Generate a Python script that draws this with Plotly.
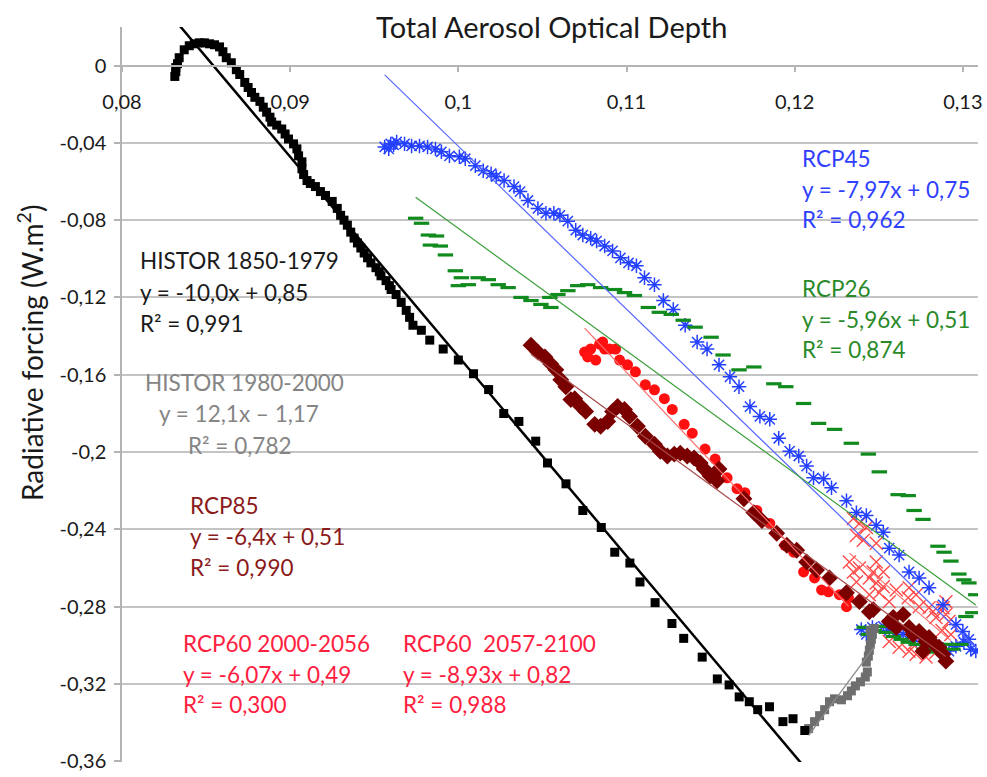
import numpy as np
import plotly.graph_objects as go

# ---------------- data (AOD, radiative forcing W.m-2) ----------------
histor1_aod = [0.08314, 0.0832, 0.0832, 0.0833, 0.0834, 0.0837, 0.0840, 0.0843, 0.0846, 0.0849,
               0.0852, 0.0855, 0.0858, 0.0860, 0.0862, 0.0865, 0.0868, 0.0870, 0.0873, 0.0875,
               0.0877, 0.0879, 0.0882, 0.0884, 0.0886, 0.0888, 0.0889, 0.0892, 0.0895, 0.0897,
               0.0899, 0.0902, 0.0904, 0.0905, 0.0907, 0.0907, 0.0908, 0.0910, 0.0912, 0.0915,
               0.0918, 0.0921, 0.0925, 0.0928, 0.0930, 0.0932, 0.0934, 0.0936, 0.0938, 0.0940,
               0.0942, 0.0944, 0.0946, 0.0948, 0.0951, 0.0953, 0.0954, 0.0957, 0.0959, 0.0960,
               0.0963, 0.0966, 0.0969, 0.0971, 0.0973, 0.0978, 0.0983, 0.0991, 0.1000, 0.1009,
               0.1018, 0.1027, 0.1036, 0.1046, 0.1053, 0.1064, 0.1074, 0.1085, 0.1093, 0.1102,
               0.1108, 0.1117, 0.1127, 0.1134, 0.1145, 0.1154, 0.1161, 0.1167, 0.1173, 0.1178,
               0.1185, 0.1193, 0.1199, 0.1206]
histor1_rf = [-0.0056, -0.0031, -0.0010, 0.0010, 0.0041, 0.0082, 0.0103, 0.0113, 0.0118, 0.0118,
              0.0113, 0.0108, 0.0097, 0.0072, 0.0041, 0.0015, -0.0021, -0.0046, -0.0087, -0.0113,
              -0.0139, -0.0164, -0.0185, -0.0215, -0.0241, -0.0267, -0.0292, -0.0308, -0.0328, -0.0354,
              -0.0380, -0.0405, -0.0431, -0.0467, -0.0498, -0.0534, -0.0564, -0.0595, -0.0610, -0.0626,
              -0.0652, -0.0672, -0.0703, -0.0739, -0.0775, -0.0800, -0.0826, -0.0862, -0.0893, -0.0918,
              -0.0944, -0.0970, -0.0995, -0.1021, -0.1046, -0.1067, -0.1088, -0.1113, -0.1139, -0.1159,
              -0.1185, -0.1226, -0.1267, -0.1303, -0.1344, -0.1370, -0.1421, -0.1467, -0.1524, -0.1595,
              -0.1677, -0.1801, -0.1842, -0.1944, -0.2057, -0.2165, -0.2303, -0.2391, -0.2519, -0.2575,
              -0.2673, -0.2780, -0.2888, -0.2965, -0.3062, -0.3175, -0.3206, -0.3268, -0.3293, -0.3334,
              -0.3319, -0.3396, -0.3381, -0.3442]

histor2_aod = [0.12083, 0.12118, 0.12148, 0.12178, 0.12207, 0.12237, 0.12278, 0.12314, 0.12337, 0.12361,
               0.12391, 0.12420, 0.12432, 0.12426, 0.12438, 0.12444, 0.12450, 0.12456, 0.12462, 0.12450,
               0.12473]
histor2_rf = [-0.3432, -0.3396, -0.3365, -0.3334, -0.3293, -0.3278, -0.3283, -0.3262, -0.3237, -0.3211,
              -0.3190, -0.3165, -0.3139, -0.3088, -0.3057, -0.3026, -0.2996, -0.2970, -0.2944, -0.2924,
              -0.2914]

rcp45_aod = [0.12396, 0.12426, 0.12462, 0.12527, 0.12562, 0.12604, 0.12645, 0.12704, 0.12751, 0.12799,
             0.12840, 0.12882, 0.12917, 0.12959, 0.13006, 0.13047, 0.13077, 0.13036, 0.13000, 0.12959,
             0.12882, 0.12799, 0.12740, 0.12680, 0.12621, 0.12562, 0.12527, 0.12485, 0.12426, 0.12367,
             0.12308, 0.12219, 0.12172, 0.12112, 0.12071, 0.12024, 0.11970, 0.11905, 0.11852, 0.11793,
             0.11734, 0.11669, 0.11615, 0.11550, 0.11479, 0.11420, 0.11349, 0.11278, 0.11219, 0.11166,
             0.11107, 0.11059, 0.11012, 0.10964, 0.10917, 0.10870, 0.10822, 0.10787, 0.10740, 0.10698,
             0.10651, 0.10604, 0.10568, 0.10521, 0.10473, 0.10414, 0.10367, 0.10331, 0.10272, 0.10225,
             0.10195, 0.10148, 0.10101, 0.10041, 0.10006, 0.09947, 0.09899, 0.09864, 0.09817, 0.09769,
             0.09722, 0.09680, 0.09633, 0.09598, 0.09562, 0.09586, 0.09615]
rcp45_rf = [-0.2919, -0.2944, -0.2908, -0.2903, -0.2924, -0.2934, -0.2944, -0.2960, -0.2980, -0.2996,
            -0.3006, -0.3021, -0.3031, -0.3006, -0.2985, -0.3021, -0.3031, -0.2970, -0.2929, -0.2893,
            -0.2791, -0.2703, -0.2652, -0.2621, -0.2534, -0.2498, -0.2416, -0.2380, -0.2329, -0.2314,
            -0.2252, -0.2185, -0.2139, -0.2134, -0.2073, -0.2021, -0.1996, -0.1929, -0.1831, -0.1816,
            -0.1765, -0.1662, -0.1611, -0.1549, -0.1467, -0.1431, -0.1344, -0.1262, -0.1216, -0.1134,
            -0.1098, -0.1036, -0.1021, -0.0995, -0.0959, -0.0934, -0.0908, -0.0893, -0.0877, -0.0852,
            -0.0805, -0.0775, -0.0764, -0.0764, -0.0739, -0.0698, -0.0652, -0.0626, -0.0595, -0.0575,
            -0.0559, -0.0544, -0.0518, -0.0482, -0.0472, -0.0467, -0.0446, -0.0431, -0.0421, -0.0416,
            -0.0416, -0.0405, -0.0395, -0.0405, -0.0421, -0.0431, -0.0410]

rcp26_aod = [0.12414, 0.12438, 0.12473, 0.12515, 0.12544, 0.12586, 0.12633, 0.12675, 0.12722, 0.12769,
             0.12811, 0.12852, 0.12899, 0.12941, 0.12988, 0.13018, 0.13059, 0.13077, 0.13036, 0.13006,
             0.12976, 0.12929, 0.12888, 0.12852, 0.12763, 0.12710, 0.12675, 0.12615, 0.12503, 0.12438,
             0.12337, 0.12237, 0.12142, 0.12053, 0.11947, 0.11876, 0.11757, 0.11669, 0.11574, 0.11503,
             0.11408, 0.11337, 0.11266, 0.11195, 0.11130, 0.11047, 0.10988, 0.10929, 0.10846, 0.10769,
             0.10710, 0.10651, 0.10592, 0.10544, 0.10550, 0.10491, 0.10432, 0.10373, 0.10296, 0.10237,
             0.10178, 0.10118, 0.10059, 0.10000, 0.10018, 0.09982, 0.09923, 0.09893, 0.09834, 0.09870,
             0.09822, 0.09781, 0.09746]
rcp26_rf = [-0.2908, -0.2944, -0.2924, -0.2903, -0.2934, -0.2955, -0.2970, -0.2985, -0.2996, -0.3021,
            -0.3036, -0.3031, -0.2996, -0.3021, -0.2996, -0.2852, -0.2832, -0.2739, -0.2678, -0.2662,
            -0.2632, -0.2565, -0.2519, -0.2488, -0.2349, -0.2303, -0.2226, -0.2221, -0.2103, -0.2011,
            -0.1955, -0.1883, -0.1852, -0.1749, -0.1662, -0.1647, -0.1560, -0.1575, -0.1498, -0.1406,
            -0.1354, -0.1318, -0.1288, -0.1277, -0.1252, -0.1190, -0.1175, -0.1159, -0.1149, -0.1134,
            -0.1139, -0.1165, -0.1185, -0.1200, -0.1252, -0.1236, -0.1216, -0.1200, -0.1149, -0.1134,
            -0.1108, -0.1098, -0.1134, -0.1139, -0.1098, -0.1062, -0.0980, -0.0934, -0.0929, -0.0882,
            -0.0877, -0.0816, -0.0790]

rcp85_aod = [0.10432, 0.10473, 0.10515, 0.10550, 0.10580, 0.10609, 0.10639, 0.10669, 0.10692, 0.10728,
             0.10757, 0.10811, 0.10846, 0.10888, 0.10917, 0.10947, 0.10988, 0.11018, 0.11065, 0.11112,
             0.11166, 0.11201, 0.11243, 0.11284, 0.11320, 0.11361, 0.11402, 0.11438, 0.11462, 0.11497,
             0.11538, 0.11550, 0.11698, 0.11757, 0.11805, 0.11893, 0.11953, 0.12012, 0.12071, 0.12130,
             0.12207, 0.12308, 0.12385, 0.12444, 0.12467, 0.12562, 0.12586, 0.12645, 0.12604, 0.12680,
             0.12704, 0.12740, 0.12781, 0.12799, 0.12840, 0.12858, 0.12882, 0.12899, 0.12763]
rcp85_rf = [-0.1447, -0.1483, -0.1508, -0.1544, -0.1575, -0.1626, -0.1662, -0.1729, -0.1724, -0.1765,
            -0.1790, -0.1857, -0.1867, -0.1842, -0.1790, -0.1765, -0.1780, -0.1816, -0.1867, -0.1919,
            -0.1960, -0.1996, -0.2021, -0.2011, -0.2006, -0.2021, -0.2031, -0.2057, -0.2088, -0.2124,
            -0.2149, -0.2088, -0.2242, -0.2314, -0.2355, -0.2421, -0.2483, -0.2509, -0.2570, -0.2611,
            -0.2652, -0.2729, -0.2775, -0.2827, -0.2816, -0.2878, -0.2857, -0.2842, -0.2909, -0.2909,
            -0.2945, -0.2929, -0.2981, -0.2960, -0.3006, -0.3011, -0.3047, -0.3083, -0.3032]

rcp60b_aod = [0.10751, 0.10787, 0.10817, 0.10840, 0.10870, 0.10899, 0.10935, 0.10959, 0.11006, 0.11053,
              0.11112, 0.11166, 0.11225, 0.11272, 0.11343, 0.11391, 0.11467, 0.11527, 0.11598, 0.11657,
              0.11704, 0.11775, 0.11852, 0.11941, 0.11994, 0.12053, 0.12118, 0.12160, 0.12201, 0.12266,
              0.12320, 0.12308, 0.10769, 0.10858]
rcp60b_rf = [-0.1483, -0.1467, -0.1524, -0.1442, -0.1467, -0.1467, -0.1467, -0.1524, -0.1549, -0.1585,
             -0.1652, -0.1678, -0.1724, -0.1780, -0.1857, -0.1903, -0.1985, -0.2037, -0.2134, -0.2190,
             -0.2211, -0.2303, -0.2370, -0.2483, -0.2519, -0.2621, -0.2652, -0.2714, -0.2724, -0.2739,
             -0.2755, -0.2801, -0.1508, -0.1431]

rcp60a_aod = [0.12349, 0.12385, 0.12426, 0.12367, 0.12408, 0.12485, 0.12325, 0.12385, 0.12349, 0.12467,
              0.12527, 0.12485, 0.12444, 0.12367, 0.12485, 0.12527, 0.12503, 0.12444, 0.12562, 0.12604,
              0.12680, 0.12675, 0.12722, 0.12740, 0.12799, 0.12822, 0.12882, 0.12899, 0.12840, 0.12917,
              0.12899, 0.12562, 0.12621, 0.12680, 0.12722, 0.12704, 0.12781, 0.12840, 0.12929, 0.12876]
rcp60a_rf = [-0.2344, -0.2370, -0.2391, -0.2432, -0.2457, -0.2473, -0.2570, -0.2601, -0.2621, -0.2621,
             -0.2621, -0.2570, -0.2652, -0.2673, -0.2678, -0.2698, -0.2729, -0.2739, -0.2775, -0.2714,
             -0.2703, -0.2755, -0.2739, -0.2801, -0.2806, -0.2827, -0.2806, -0.2775, -0.2857, -0.2878,
             -0.2842, -0.2981, -0.3011, -0.3032, -0.3047, -0.2996, -0.3062, -0.3037, -0.2945, -0.2924]

x_tickvals = [0.08, 0.09, 0.10, 0.11, 0.12, 0.13]
x_ticktext = ["0,08", "0,09", "0,1", "0,11", "0,12", "0,13"]
y_tickvals = [0, -0.04, -0.08, -0.12, -0.16, -0.2, -0.24, -0.28, -0.32, -0.36]
y_ticktext = ["0", "-0,04", "-0,08", "-0,12", "-0,16", "-0,2", "-0,24", "-0,28", "-0,32", "-0,36"]

FONT = "Lato"
fig = go.Figure()

def scatter(x, y, symbol, color, size, lw=0, lcolor=None):
    fig.add_trace(go.Scatter(
        x=x, y=y, mode="markers",
        marker=dict(symbol=symbol, color=color, size=size,
                    line=dict(width=lw, color=lcolor or color)),
        showlegend=False, hoverinfo="x+y"))

def trend(x, y, color, width):
    c = np.polyfit(x, y, 1)
    xs = np.array([min(x), max(x)])
    fig.add_trace(go.Scatter(x=xs, y=np.polyval(c, xs), mode="lines",
                             line=dict(color=color, width=width),
                             showlegend=False, hoverinfo="skip"))

scatter(rcp60a_aod, rcp60a_rf, "x-thin-open", "#FF4B4B", 13, 1.4)
scatter(rcp45_aod, rcp45_rf, "asterisk-open", "#2440FF", 12, 1.5)
scatter(rcp26_aod, rcp26_rf, "line-ew-open", "#118A1E", 11, 3.2)
scatter(histor2_aod, histor2_rf, "square", "#6E6E6E", 9)
scatter(histor1_aod, histor1_rf, "square", "#000000", 9)
scatter(rcp60b_aod, rcp60b_rf, "circle", "#FF1010", 11)
scatter(rcp85_aod, rcp85_rf, "diamond", "#7A0000", 13)

trend(histor1_aod, histor1_rf, "#000000", 2.5)
trend(histor2_aod, histor2_rf, "#8C8C8C", 1.3)
trend(rcp45_aod, rcp45_rf, "#5566FF", 1.2)
trend(rcp26_aod, rcp26_rf, "#3CA03C", 1.2)
trend(rcp85_aod, rcp85_rf, "#A84848", 1.2)
trend(rcp60b_aod, rcp60b_rf, "#FF6A6A", 1.2)
trend(rcp60a_aod, rcp60a_rf, "#FF6A6A", 1.2)

# ---------------- text labels ----------------
labels = [
    ("HISTOR 1850-1979", 0.08095, -0.1011, "#1A1A1A"),
    ("y = -10,0x + 0,85", 0.08095, -0.1175, "#1A1A1A"),
    ("R² = 0,991", 0.08095, -0.1334, "#1A1A1A"),
    ("HISTOR 1980-2000", 0.08124, -0.1642, "#858585"),
    ("y = 12,1x – 1,17", 0.08207, -0.1801, "#858585"),
    ("R² = 0,782", 0.08379, -0.1965, "#858585"),
    ("RCP85", 0.08391, -0.2278, "#8B1A1A"),
    ("y = -6,4x + 0,51", 0.08391, -0.2437, "#8B1A1A"),
    ("R² = 0,990", 0.08391, -0.2596, "#8B1A1A"),
    ("RCP60 2000-2056", 0.08349, -0.2991, "#FF2040"),
    ("y = -6,07x + 0,49", 0.08349, -0.3150, "#FF2040"),
    ("R² = 0,300", 0.08349, -0.3309, "#FF2040"),
    ("RCP60  2057-2100", 0.09657, -0.2991, "#FF2040"),
    ("y = -8,93x + 0,82", 0.09657, -0.3150, "#FF2040"),
    ("R² = 0,988", 0.09657, -0.3309, "#FF2040"),
    ("RCP45", 0.12030, -0.0482, "#3040FF"),
    ("y = -7,97x + 0,75", 0.12030, -0.0641, "#3040FF"),
    ("R² = 0,962", 0.12030, -0.0795, "#3040FF"),
    ("RCP26", 0.12030, -0.1154, "#2A8A2A"),
    ("y = -5,96x + 0,51", 0.12030, -0.1313, "#2A8A2A"),
    ("R² = 0,874", 0.12030, -0.1472, "#2A8A2A"),
]
for txt, lx, ly, col in labels:
    fig.add_annotation(x=lx, y=ly, xref="x", yref="y", text=txt, showarrow=False,
                       xanchor="left", yanchor="middle",
                       font=dict(family=FONT, size=22.5, color=col))

fig.add_annotation(x=-0.107, y=0.557, xref="paper", yref="paper",
                   text="Radiative forcing (W.m<sup>2</sup>)", textangle=-90, showarrow=False,
                   xanchor="center", yanchor="middle",
                   font=dict(family=FONT, size=28, color="#1A1A1A"))

YMIN, YMAX = -0.3605, 0.02
fig.update_layout(
    width=987, height=777,
    margin=dict(l=122, r=5, t=27, b=10),
    paper_bgcolor="white", plot_bgcolor="white",
    font=dict(family=FONT, color="#1A1A1A"),
    title=dict(text="Total Aerosol Optical Depth", x=0.559, xanchor="center",
               y=1 - 28 / 777, yanchor="middle", yref="container",
               font=dict(family=FONT, size=29, color="#1A1A1A")),
    xaxis=dict(range=[0.08, 0.1309], tickvals=x_tickvals, ticktext=x_ticktext,
               showgrid=False, zeroline=False, showline=True, linecolor="#B4B4B4", linewidth=1.5,
               ticks="outside", ticklen=6, tickcolor="#B4B4B4", tickwidth=1.5,
               anchor="free", position=(0 - YMIN) / (YMAX - YMIN), side="bottom",
               ticklabelstandoff=13,
               tickfont=dict(family=FONT, size=20, color="#1A1A1A")),
    yaxis=dict(range=[YMIN, YMAX], tickvals=y_tickvals, ticktext=y_ticktext,
               showgrid=True, gridcolor="#C4C4C4", gridwidth=1.5, zeroline=False,
               showline=True, linecolor="#B4B4B4", linewidth=1.5,
               ticks="outside", ticklen=6, tickcolor="#B4B4B4", tickwidth=1.5,
               ticklabelstandoff=4, ticklabeloverflow="allow",
               tickfont=dict(family=FONT, size=20, color="#1A1A1A")),
)

fig.write_html("out.html")
